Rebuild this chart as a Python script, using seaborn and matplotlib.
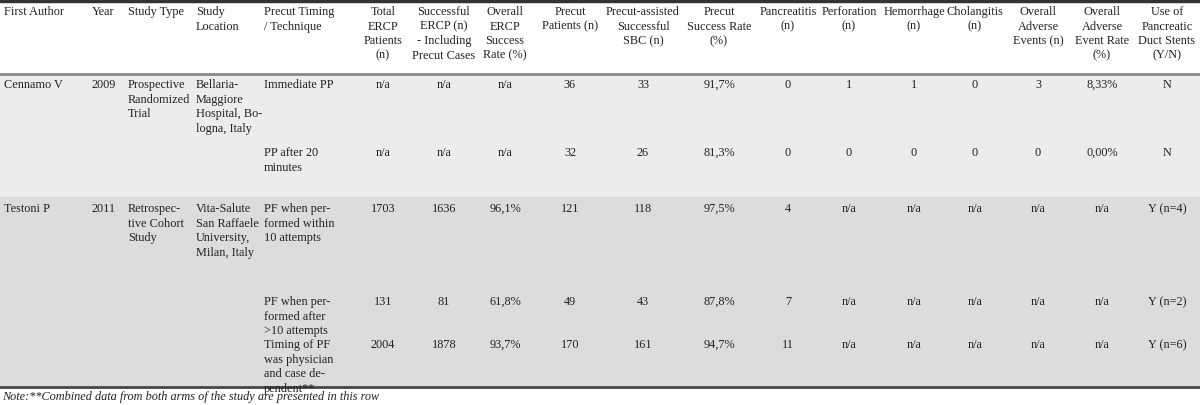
import matplotlib
matplotlib.use("Agg")
import matplotlib.pyplot as plt
import seaborn as sns

sns.set_theme(style="white")
plt.rcParams['font.family'] = ['Liberation Serif', 'DejaVu Serif']

# column headers and rows of the table
headers = [
    "First Author", "Year", "Study Type", "Study\nLocation", "Precut Timing\n/ Technique",
    "Total\nERCP\nPatients\n(n)", "Successful\nERCP (n)\n- Including\nPrecut Cases",
    "Overall\nERCP\nSuccess\nRate (%)", "Precut\nPatients (n)", "Precut-assisted\nSuccessful\nSBC (n)",
    "Precut\nSuccess Rate\n(%)", "Pancreatitis\n(n)", "Perforation\n(n)", "Hemorrhage\n(n)",
    "Cholangitis\n(n)", "Overall\nAdverse\nEvents (n)", "Overall\nAdverse\nEvent Rate\n(%)",
    "Use of\nPancreatic\nDuct Stents\n(Y/N)",
]
authors = ["Cennamo V", "", "Testoni P", "", ""]
years = ["2009", "", "2011", "", ""]
study_types = ["Prospective\nRandomized\nTrial", "", "Retrospec-\ntive Cohort\nStudy", "", ""]
locations = ["Bellaria-\nMaggiore\nHospital, Bo-\nlogna, Italy", "",
             "Vita-Salute\nSan Raffaele\nUniversity,\nMilan, Italy", "", ""]
timing = ["Immediate PP", "PP after 20\nminutes", "PF when per-\nformed within\n10 attempts",
          "PF when per-\nformed after\n>10 attempts",
          "Timing of PF\nwas physician\nand case de-\npendent**"]
total_ercp = ["n/a", "n/a", "1703", "131", "2004"]
success_ercp = ["n/a", "n/a", "1636", "81", "1878"]
ercp_rate = ["n/a", "n/a", "96,1%", "61,8%", "93,7%"]
precut_pts = ["36", "32", "121", "49", "170"]
precut_sbc = ["33", "26", "118", "43", "161"]
precut_rate = ["91,7%", "81,3%", "97,5%", "87,8%", "94,7%"]
pancreatitis = ["0", "0", "4", "7", "11"]
perforation = ["1", "0", "n/a", "n/a", "n/a"]
hemorrhage = ["1", "0", "n/a", "n/a", "n/a"]
cholangitis = ["0", "0", "n/a", "n/a", "n/a"]
adverse_n = ["3", "0", "n/a", "n/a", "n/a"]
adverse_rate = ["8,33%", "0,00%", "n/a", "n/a", "n/a"]
stents = ["N", "N", "Y (n=4)", "Y (n=2)", "Y (n=6)"]
note = "Note:**Combined data from both arms of the study are presented in this row"

columns = [authors, years, study_types, locations, timing, total_ercp, success_ercp,
           ercp_rate, precut_pts, precut_sbc, precut_rate, pancreatitis, perforation,
           hemorrhage, cholangitis, adverse_n, adverse_rate, stents]

# layout in pixels
col_x = [4, 92, 128, 196, 264, 383, 444, 505, 570, 643, 719, 788, 849, 914, 975, 1038, 1102, 1167]
col_ha = ["left"] * 5 + ["center"] * 13
row_top = [79, 147, 203, 296, 339]

fig = plt.figure(figsize=(12, 4.05), dpi=100)
ax = fig.add_axes([0, 0, 1, 1])
ax.set_xlim(0, 1200)
ax.set_ylim(405, 0)
ax.axis("off")

ax.axhspan(74, 197, color="#ececec", lw=0)
ax.axhspan(197, 386, color="#dcdcdc", lw=0)
ax.axhline(1, color="#333333", lw=2.5)
ax.axhline(74, color="#8a8a8a", lw=2)
ax.axhline(386.5, color="#444444", lw=2)

fs = 8.8
ls = 1.28
for x, ha, h in zip(col_x, col_ha, headers):
    ax.text(x, 6, h, ha=ha, va="top", fontsize=fs, linespacing=ls, color="#222222")

for x, ha, col in zip(col_x, col_ha, columns):
    for y, val in zip(row_top, col):
        if val:
            ax.text(x, y, val, ha=ha, va="top", fontsize=fs, linespacing=ls, color="#222222")

ax.text(2, 397, note, ha="left", va="center", fontsize=fs, style="italic", color="#222222")

fig.savefig("out.png", dpi=100)
